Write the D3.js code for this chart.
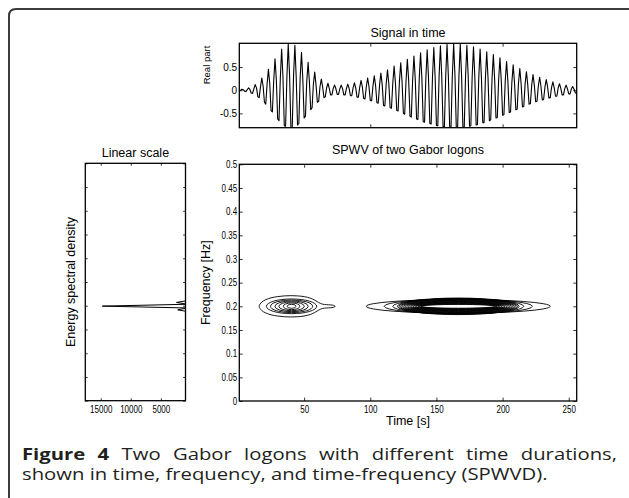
<!DOCTYPE html>
<html><head><meta charset="utf-8">
<script src="https://cdn.jsdelivr.net/npm/d3@7"></script>
<style>body{margin:0;background:#fff}svg{display:block}</style>
</head><body>
<svg id="c" width="629" height="498"></svg>
<script>
// ---------------- data ----------------
const signalReal = [
-0.01,0.00,0.02,0.01,-0.02,-0.03,0.01,0.05,0.02,-0.06,
-0.07,0.03,0.12,0.05,-0.14,-0.16,0.07,0.26,0.09,-0.26,
-0.30,0.13,0.45,0.15,-0.44,-0.47,0.20,0.68,0.22,-0.62,
-0.66,0.26,0.89,0.28,-0.77,-0.78,0.31,1.00,0.31,-0.81,
-0.81,0.31,0.97,0.29,-0.75,-0.72,0.27,0.82,0.24,-0.60,
-0.56,0.20,0.60,0.17,-0.42,-0.38,0.13,0.39,0.11,-0.26,
-0.24,0.08,0.24,0.07,-0.16,-0.14,0.05,0.15,0.04,-0.10,
-0.10,0.04,0.11,0.03,-0.09,-0.09,0.03,0.11,0.04,-0.10,
-0.10,0.04,0.13,0.04,-0.12,-0.12,0.05,0.16,0.05,-0.15,
-0.15,0.06,0.21,0.07,-0.18,-0.19,0.08,0.26,0.08,-0.22,
-0.23,0.09,0.31,0.10,-0.27,-0.28,0.11,0.37,0.12,-0.33,
-0.34,0.13,0.44,0.14,-0.38,-0.39,0.15,0.52,0.16,-0.44,
-0.45,0.18,0.59,0.19,-0.50,-0.52,0.20,0.67,0.21,-0.56,
-0.58,0.22,0.74,0.23,-0.62,-0.63,0.25,0.81,0.25,-0.68,
-0.69,0.27,0.87,0.27,-0.72,-0.73,0.28,0.92,0.29,-0.76,
-0.77,0.30,0.96,0.30,-0.79,-0.79,0.30,0.99,0.31,-0.80,
-0.81,0.31,1.00,0.31,-0.81,-0.81,0.31,0.99,0.31,-0.80,
-0.80,0.30,0.97,0.30,-0.78,-0.77,0.29,0.94,0.29,-0.75,
-0.74,0.28,0.89,0.27,-0.70,-0.70,0.26,0.83,0.25,-0.66,
-0.64,0.24,0.77,0.23,-0.60,-0.59,0.22,0.70,0.21,-0.54,
-0.53,0.20,0.62,0.19,-0.48,-0.47,0.17,0.55,0.16,-0.42,
-0.41,0.15,0.47,0.14,-0.36,-0.35,0.13,0.40,0.12,-0.30,
-0.29,0.11,0.34,0.10,-0.25,-0.24,0.09,0.28,0.08,-0.21,
-0.20,0.07,0.23,0.07,-0.17,-0.16,0.06,0.18,0.05,-0.13,
-0.13,0.05,0.14,0.04,-0.10,-0.10,0.04,0.11,0.03,-0.08,
-0.08,0.03,0.08,0.02,-0.06,-0.06];
const timeRange = [1, 256];
const signalTicks = [-0.5, 0, 0.5];
const signalTimeTicks = [100, 200];
const timeTicks = [50, 100, 150, 200, 250];
const freqRange = [0, 0.5];
const freqTicks = [0, 0.05, 0.1, 0.15, 0.2, 0.25, 0.3, 0.35, 0.4, 0.45, 0.5];
const freqTickLabels = ["0","0.05","0.1","0.15","0.2","0.25","0.3","0.35","0.4","0.45","0.5"];

// energy spectral density (frequency bins k/256)
const esdFreq  = [0, 0.1719, 0.1758, 0.1797, 0.1836, 0.1875, 0.1914, 0.1953, 0.1992, 0.2031, 0.2070, 0.2109, 0.2148, 0.2188, 0.2227, 0.2266, 0.5];
const esdValue = [0, 40, 90, 160, 260, 450, 2200, 650, 14734, 620, 2400, 480, 280, 170, 90, 40, 0];
const esdRange = [17567, 900];
const esdTicks = [15000, 10000, 5000];

// SPWV contours: logon 1 (short) and logon 2 (long)
const logon1Center = [40.5, 0.2];
const logon1OuterT    = [16, 18, 21, 25, 30, 35, 40, 45, 50, 55, 58, 61, 64, 67, 70, 72, 73.5];
const logon1OuterHalf = [0, 0.009, 0.014, 0.018, 0.0205, 0.022, 0.0225, 0.022, 0.0205, 0.017, 0.013, 0.008, 0.0045, 0.0035, 0.003, 0.0022, 0];
const logon1RingT = [19, 15.9, 12.6, 9.6, 6.3, 3.3];
const logon1RingF = [0.0155, 0.0134, 0.0113, 0.0092, 0.007, 0.0042];
const logon2Center = [166.5, 0.2];
const logon2RingT = [69.5, 56, 49.5, 46, 44.8, 43.6, 42.4, 41.2, 40, 38.8, 37.6, 36.4, 35.2, 34, 32.8, 31.6, 30.4, 29.2, 28];
const logon2RingF = [0.0145, 0.0155, 0.016, 0.0175, 0.0166, 0.0157, 0.0148, 0.0139, 0.013, 0.0121, 0.0112, 0.0103, 0.0094, 0.0085, 0.0076, 0.0067, 0.0058, 0.0049, 0.004];

const captionBold = "Figure 4";
const captionLine1 = " Two Gabor logons with different time durations,";
const captionLine2 = "shown in time, frequency, and time-frequency (SPWVD).";

// ---------------- drawing ----------------
const svg = d3.select("#c");
const FONT = "'Liberation Sans', Arial, Helvetica, sans-serif";
const defs = svg.append("defs");

svg.append("path").attr("d", "M9,498 V16 Q9,9 16,9 H629")
  .attr("fill", "none").attr("stroke", "#3c3c3c").attr("stroke-width", 2);

function clip(id, x0, y0, x1, y1) {
  defs.append("clipPath").attr("id", id).append("rect")
    .attr("x", x0).attr("y", y0).attr("width", x1 - x0).attr("height", y1 - y0);
  return "url(#" + id + ")";
}
function box(x0, y0, x1, y1) {
  svg.append("rect").attr("x", x0).attr("y", y0).attr("width", x1 - x0).attr("height", y1 - y0)
    .attr("fill", "none").attr("stroke", "#000").attr("stroke-width", 1.3);
}
function styleAxis(g, anchor, sx, size) {
  sx = sx || 0.8; size = size || 10;
  g.select(".domain").remove();
  g.selectAll("line").attr("stroke", "#000").attr("stroke-width", 0.8);
  g.selectAll("text").attr("fill", "#000").attr("font-family", FONT).attr("font-size", size)
    .attr("transform", `scale(${sx},1)`);
  if (anchor === "left") g.selectAll("text").attr("x", -2.2 / sx);
}
function label(x, y, txt, size, rot) {
  const t = svg.append("text").attr("font-family", FONT).attr("font-size", size)
    .attr("text-anchor", "middle").attr("fill", "#000").text(txt);
  if (rot) t.attr("transform", `translate(${x},${y}) rotate(-90)`);
  else t.attr("x", x).attr("y", y);
  return t;
}

// ---- top panel: signal in time
const T = {x0: 239.3, x1: 576.7, y0: 43.3, y1: 127.7};
const xT = d3.scaleLinear().domain(timeRange).range([T.x0, T.x1]);
const yS = d3.scaleLinear().domain(d3.extent(signalReal)).range([T.y1, T.y0 + 0.6]);
svg.append("path").datum(signalReal).attr("clip-path", clip("clipTop", T.x0, T.y0, T.x1, T.y1))
  .attr("fill", "none").attr("stroke", "#000").attr("stroke-width", 1.1).attr("stroke-linejoin", "round")
  .attr("d", d3.line().x((d, i) => xT(i + 1)).y(d => yS(d)));
const tl = 3.4;
svg.append("g").attr("transform", `translate(${T.x0},0)`)
  .call(d3.axisLeft(yS).tickValues(signalTicks).tickSize(-tl).tickFormat(d => String(d)))
  .call(g => styleAxis(g, "left", 1, 10));
svg.append("g").attr("transform", `translate(${T.x1},0)`)
  .call(d3.axisRight(yS).tickValues(signalTicks).tickSize(-tl).tickFormat(""))
  .call(g => styleAxis(g));
svg.append("g").attr("transform", `translate(0,${T.y0})`)
  .call(d3.axisTop(xT).tickValues(signalTimeTicks).tickSize(-tl).tickFormat(""))
  .call(g => styleAxis(g));
svg.append("g").attr("transform", `translate(0,${T.y1})`)
  .call(d3.axisBottom(xT).tickValues(signalTimeTicks).tickSize(-tl).tickFormat(""))
  .call(g => styleAxis(g));
box(T.x0, T.y0, T.x1, T.y1);
label((T.x0 + T.x1) / 2, 36.5, "Signal in time", 12.5);
label(209.8, 65, "Real part", 9.5, true);

// ---- main panel: SPWV
const M = {x0: 239.3, x1: 576.7, y0: 164.3, y1: 401};
const yF = d3.scaleLinear().domain(freqRange).range([M.y1, M.y0]);
const cg = svg.append("g").attr("clip-path", clip("clipMain", M.x0, M.y0, M.x1, M.y1))
  .attr("fill", "none").attr("stroke", "#000").attr("stroke-width", 0.9);
const upper = logon1OuterT.map((t, i) => [xT(t), yF(logon1Center[1] + logon1OuterHalf[i])]);
const lower = logon1OuterT.slice(1, -1).map((t, i) => [xT(t), yF(logon1Center[1] - logon1OuterHalf[i + 1])]).reverse();
cg.append("path").attr("d", d3.line().curve(d3.curveCatmullRomClosed)(upper.concat(lower)));
function rings(center, rt, rf) {
  cg.selectAll(null).data(rt).join("ellipse")
    .attr("cx", xT(center[0])).attr("cy", yF(center[1]))
    .attr("rx", d => xT(center[0] + d) - xT(center[0]))
    .attr("ry", (d, i) => yF(center[1]) - yF(center[1] + rf[i]));
}
rings(logon1Center, logon1RingT, logon1RingF);
rings(logon2Center, logon2RingT, logon2RingF);

svg.append("g").attr("transform", `translate(${M.x0},0)`)
  .call(d3.axisLeft(yF).tickValues(freqTicks).tickSize(-tl).tickFormat((d, i) => freqTickLabels[i]))
  .call(g => styleAxis(g, "left"));
svg.append("g").attr("transform", `translate(${M.x1},0)`)
  .call(d3.axisRight(yF).tickValues(freqTicks).tickSize(-tl).tickFormat(""))
  .call(g => styleAxis(g));
svg.append("g").attr("transform", `translate(0,${M.y0})`)
  .call(d3.axisTop(xT).tickValues(timeTicks).tickSize(-tl).tickFormat(""))
  .call(g => styleAxis(g));
svg.append("g").attr("transform", `translate(0,${M.y1})`)
  .call(d3.axisBottom(xT).tickValues(timeTicks).tickSize(-tl).tickPadding(4.6).tickFormat(d => String(d)))
  .call(g => styleAxis(g));
box(M.x0, M.y0, M.x1, M.y1);
label((M.x0 + M.x1) / 2, 154, "SPWV of two Gabor logons", 12.5);
label((M.x0 + M.x1) / 2, 424.5, "Time [s]", 12.5);
label(209.5, (M.y0 + M.y1) / 2, "Frequency [Hz]", 12.5, true);

// ---- left panel: energy spectral density
const L = {x0: 85.3, x1: 185.5, y0: 163.3, y1: 400.7};
const xE = d3.scaleLinear().domain(esdRange).range([L.x0, L.x1]);
const yL = d3.scaleLinear().domain(freqRange).range([L.y1, L.y0]);
svg.append("path").datum(esdFreq).attr("clip-path", clip("clipLeft", L.x0, L.y0, L.x1, L.y1))
  .attr("fill", "none").attr("stroke", "#000").attr("stroke-width", 1).attr("stroke-linejoin", "miter")
  .attr("d", d3.line().x((d, i) => xE(esdValue[i])).y(d => yL(d)));
const tlL = 2.4;
svg.append("g").attr("transform", `translate(${L.x0},0)`)
  .call(d3.axisLeft(yL).tickValues(freqTicks).tickSize(-tlL).tickFormat(""))
  .call(g => styleAxis(g));
svg.append("g").attr("transform", `translate(${L.x1},0)`)
  .call(d3.axisRight(yL).tickValues(freqTicks).tickSize(-tlL).tickFormat(""))
  .call(g => styleAxis(g));
svg.append("g").attr("transform", `translate(0,${L.y0})`)
  .call(d3.axisTop(xE).tickValues(esdTicks).tickSize(-tlL).tickFormat(""))
  .call(g => styleAxis(g));
svg.append("g").attr("transform", `translate(0,${L.y1})`)
  .call(d3.axisBottom(xE).tickValues(esdTicks).tickSize(-tlL).tickPadding(5.2).tickFormat(d => String(d)))
  .call(g => styleAxis(g));
box(L.x0, L.y0, L.x1, L.y1);
label((L.x0 + L.x1) / 2, 157, "Linear scale", 12.5);
label(75, (L.y0 + L.y1) / 2, "Energy spectral density", 12.5, true);

// ---- caption (Open Sans, widened to the reference line widths, line 1 justified)
const CAP = "'Open Sans', 'Noto Sans', sans-serif";
const CS = 16.5;
const capG = svg.append("g");
const cap1 = capG.append("text").attr("x", 0).attr("y", 460).attr("font-family", CAP)
  .attr("font-size", CS).attr("fill", "#231f20");
cap1.append("tspan").attr("font-weight", "bold").text(captionBold);
cap1.append("tspan").text(captionLine1);
const cap2 = capG.append("text").attr("x", 0).attr("y", 480).attr("font-family", CAP)
  .attr("font-size", CS).attr("fill", "#231f20").text(captionLine2);
const sx = 526 / cap2.node().getComputedTextLength();
capG.attr("transform", `translate(22,0) scale(${sx},1)`);
const w1 = cap1.node().getComputedTextLength();
cap1.attr("word-spacing", Math.max(0, (595 / sx - w1) / 8));
</script>
</body></html>
